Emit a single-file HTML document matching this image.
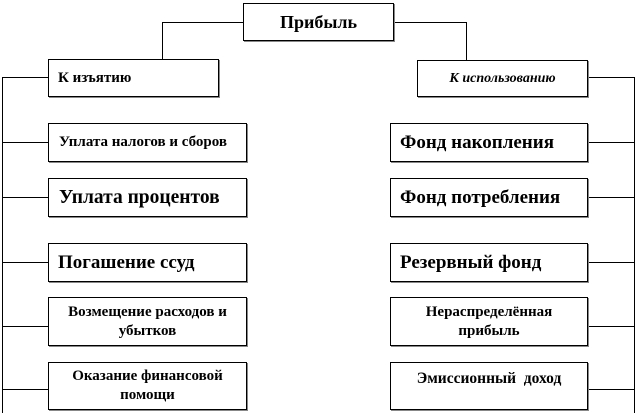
<!DOCTYPE html>
<html><head><meta charset="utf-8"><style>
body{margin:0;width:637px;height:413px;background:#fff;position:relative;overflow:hidden;font-family:"Liberation Serif","DejaVu Serif",serif;font-weight:bold;color:#000}
.b{position:absolute;border:1px solid #000;box-shadow:1px 1px 0 #888;background:#fff;box-sizing:border-box;display:flex;align-items:center;white-space:nowrap}
.l{position:absolute;background:#000}
</style></head><body>
<div class="l" style="left:162px;top:22px;width:81px;height:1px"></div>
<div class="l" style="left:162px;top:22px;width:1px;height:37px"></div>
<div class="l" style="left:394px;top:22px;width:72px;height:1px"></div>
<div class="l" style="left:466px;top:22px;width:1px;height:38px"></div>
<div class="l" style="left:2px;top:77px;width:1px;height:336px"></div>
<div class="l" style="left:634px;top:77px;width:1px;height:336px"></div>
<div class="l" style="left:2px;top:77px;width:46px;height:1px"></div>
<div class="l" style="left:2px;top:142px;width:46px;height:1px"></div>
<div class="l" style="left:2px;top:197px;width:46px;height:1px"></div>
<div class="l" style="left:2px;top:262px;width:46px;height:1px"></div>
<div class="l" style="left:2px;top:326px;width:46px;height:1px"></div>
<div class="l" style="left:2px;top:389px;width:46px;height:1px"></div>
<div class="l" style="left:588px;top:77px;width:46px;height:1px"></div>
<div class="l" style="left:588px;top:142px;width:46px;height:1px"></div>
<div class="l" style="left:588px;top:197px;width:46px;height:1px"></div>
<div class="l" style="left:588px;top:262px;width:46px;height:1px"></div>
<div class="l" style="left:588px;top:326px;width:46px;height:1px"></div>
<div class="l" style="left:588px;top:389px;width:46px;height:1px"></div>
<div class="b" style="left:243px;top:3px;width:151px;height:38px;justify-content:center;font-size:18px">Прибыль</div>
<div class="b" style="left:48px;top:59px;width:171px;height:38px;padding-left:9px;font-size:15px">К изъятию</div>
<div class="b" style="left:417px;top:60px;width:171px;height:37px;justify-content:center;font-size:14px;font-style:italic">К использованию</div>
<div class="b" style="left:48px;top:123px;width:199px;height:39px;padding-left:10px;font-size:15px">Уплата налогов и сборов</div>
<div class="b" style="left:48px;top:178px;width:199px;height:39px;padding-left:10px;font-size:19.5px">Уплата процентов</div>
<div class="b" style="left:48px;top:243px;width:199px;height:39px;padding-left:9px;font-size:19px">Погашение ссуд</div>
<div class="b" style="left:48px;top:297px;width:199px;height:49px;justify-content:center;text-align:center;font-size:15px;line-height:19px">Возмещение расходов и<br>убытков</div>
<div class="b" style="left:48px;top:362px;width:199px;height:48px;justify-content:center;text-align:center;font-size:15px;line-height:19px">Оказание финансовой<br>помощи</div>
<div class="b" style="left:390px;top:123px;width:198px;height:39px;padding-left:9px;font-size:19px">Фонд накопления</div>
<div class="b" style="left:390px;top:178px;width:198px;height:39px;padding-left:9px;font-size:19px">Фонд потребления</div>
<div class="b" style="left:390px;top:243px;width:198px;height:39px;padding-left:9px;font-size:19px">Резервный фонд</div>
<div class="b" style="left:390px;top:297px;width:198px;height:49px;justify-content:center;text-align:center;font-size:15px;line-height:19px">Нераспределённая<br>прибыль</div>
<div class="b" style="left:390px;top:362px;width:198px;height:48px;justify-content:center;align-items:flex-start;padding-top:7px;font-size:15.5px">Эмиссионный&nbsp; доход</div>
</body></html>
